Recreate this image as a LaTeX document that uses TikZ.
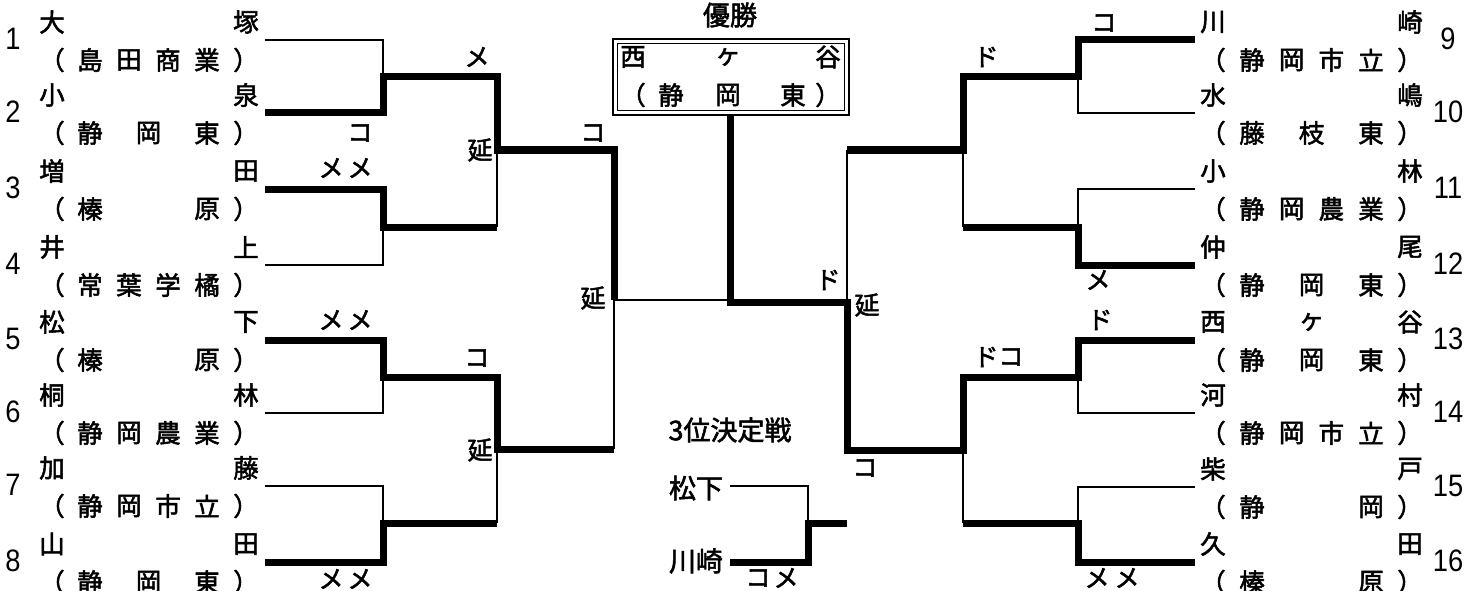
\documentclass[tikz,border=0pt]{standalone}
\usepackage{fontspec}
\setmainfont{Noto Sans CJK JP}[FakeBold=2]
\newfontfamily\numfont{Liberation Sans}
\tikzset{
  thinln/.style={line width=2.2pt},
  thickln/.style={line width=7pt, line join=miter},
  nm/.style={inner sep=0pt, font=\fontsize{25.5}{25.5}\selectfont},
  lab/.style={inner sep=0pt, font=\fontsize{25}{25}\selectfont},
  num/.style={inner sep=0pt, xscale=0.88, font=\numfont\fontsize{31}{31}\selectfont},
  ctr/.style={inner sep=0pt, font=\fontsize{27}{27}\selectfont},
  boxln/.style={line width=2pt},
  boxin/.style={line width=1.5pt},
}
\newcommand\spreadrow[5]{%
  \foreach \ch [count=\i] in {#5} {\xdef\nitems{\i}}%
  \foreach \ch [count=\i] in {#5} {%
    \pgfmathsetmacro\xx{#3+(#4-#3)*(\i-1)/max(\nitems-1,1)}%
    \node[nm] (#1-\i) at (\xx,#2) {\ch};
  }%
}
\newcommand\lteam[5]{%
  \node[num] (#1n) at (13,#2-1) {#3};
  \spreadrow{#1a}{#2-18}{52}{246}{#4}
  \node[nm] (#1o) at (52,#2+20) {（};
  \node[nm] (#1c) at (246,#2+20) {）};
  \spreadrow{#1b}{#2+20}{90}{207}{#5}
}
\newcommand\rteam[5]{%
  \node[num] (#1n) at (1448,#2-1) {#3};
  \spreadrow{#1a}{#2-18}{1213}{1410}{#4}
  \node[nm] (#1o) at (1213,#2+20) {（};
  \node[nm] (#1c) at (1410,#2+20) {）};
  \spreadrow{#1b}{#2+20}{1252}{1371}{#5}
}
\begin{document}
\begin{tikzpicture}[x=1pt,y=-1pt]
\useasboundingbox (0,0) rectangle (1480,591);
% teams left
\lteam{L1}{40}{1}{大,塚}{島,田,商,業}
\lteam{L2}{113}{2}{小,泉}{静,岡,東}
\lteam{L3}{189}{3}{増,田}{榛,原}
\lteam{L4}{265}{4}{井,上}{常,葉,学,橘}
\lteam{L5}{340}{5}{松,下}{榛,原}
\lteam{L6}{413}{6}{桐,林}{静,岡,農,業}
\lteam{L7}{486}{7}{加,藤}{静,岡,市,立}
\lteam{L8}{562}{8}{山,田}{静,岡,東}
% teams right
\rteam{R9}{40}{9}{川,崎}{静,岡,市,立}
\rteam{R10}{113}{10}{水,嶋}{藤,枝,東}
\rteam{R11}{189}{11}{小,林}{静,岡,農,業}
\rteam{R12}{265}{12}{仲,尾}{静,岡,東}
\rteam{R13}{340}{13}{西,ヶ,谷}{静,岡,東}
\rteam{R14}{413}{14}{河,村}{静,岡,市,立}
\rteam{R15}{487}{15}{柴,戸}{静,岡}
\rteam{R16}{562}{16}{久,田}{榛,原}

% left top bracket
\draw[thinln] (265,40) -- (383,40) -- (383,80);
\draw[thickln] (265,113) -- (383,113) -- (383,77) -- (497,77) -- (497,150) -- (614,150) -- (614,300);
\draw[thickln] (265,189) -- (383,189) -- (383,227) -- (497,227);
\draw[thinln] (497,150) -- (497,227);
\draw[thinln] (265,265) -- (383,265) -- (383,224);
% left bottom bracket
\draw[thickln] (265,340) -- (383,340) -- (383,377) -- (497,377) -- (497,449) -- (614,449);
\draw[thinln] (265,413) -- (383,413) -- (383,374);
\draw[thinln] (265,486) -- (383,486) -- (383,526);
\draw[thickln] (265,562) -- (383,562) -- (383,523) -- (497,523);
\draw[thinln] (497,449) -- (497,523);
\draw[thinln] (614,449) -- (614,300) -- (730,300);
% champion box
\draw[boxln] (613,39) rectangle (849,115);
\draw[boxin] (617.5,43.5) rectangle (844.5,110.5);
\node[ctr] (title) at (730,15) {優勝};
\node[nm] (w1) at (633,57) {西};
\node[nm] (w2) at (728,57) {ヶ};
\node[nm] (w3) at (828,57) {谷};
\node[nm] (w4) at (633,95) {（};
\node[nm] (w5) at (671,95) {静};
\node[nm] (w6) at (728,95) {岡};
\node[nm] (w7) at (793,95) {東};
\node[nm] (w8) at (828,95) {）};
% final
\draw[thickln] (730,115) -- (730,302) -- (847,302) -- (847,450) -- (963,450) -- (963,377) -- (1078,377) -- (1078,340) -- (1195,340);
\draw[thinln] (847,302) -- (847,150);
% right top bracket
\draw[thickln] (847,150) -- (963,150) -- (963,77) -- (1078,77) -- (1078,40) -- (1195,40);
\draw[thinln] (1078,74) -- (1078,113) -- (1195,113);
\draw[thinln] (963,150) -- (963,227);
\draw[thickln] (963,227) -- (1078,227) -- (1078,265) -- (1195,265);
\draw[thinln] (1078,230) -- (1078,189) -- (1195,189);
% right bottom bracket
\draw[thinln] (1078,374) -- (1078,413) -- (1195,413);
\draw[thinln] (963,450) -- (963,523);
\draw[thickln] (963,523) -- (1078,523) -- (1078,562) -- (1195,562);
\draw[thinln] (1078,526) -- (1078,487) -- (1195,487);
% third place
\node[ctr] (third) at (730,430) {3位決定戦};
\node[ctr] (t1) at (696,488) {松下};
\node[ctr] (t2) at (696,561) {川崎};
\draw[thinln] (730,486) -- (808,486) -- (808,526);
\draw[thickln] (730,562) -- (808,562) -- (808,523) -- (847,523);
% result labels left
\node[lab] (a1) at (477,57) {メ};
\node[lab] (a2) at (360,133) {コ};
\node[lab] (a3) at (331,168) {メ};
\node[lab] (a4) at (360,168) {メ};
\node[lab] (a5) at (480,150) {延};
\node[lab] (a6) at (593,133) {コ};
\node[lab] (a7) at (593,298) {延};
\node[lab] (a8) at (331,320) {メ};
\node[lab] (a9) at (360,320) {メ};
\node[lab] (a10) at (477,358) {コ};
\node[lab] (a11) at (480,450) {延};
\node[lab] (a12) at (331,579) {メ};
\node[lab] (a13) at (360,579) {メ};
% centre labels
\node[lab] (b1) at (828,280) {ド};
\node[lab] (b2) at (867,305) {延};
\node[lab] (b3) at (865,468) {コ};
\node[lab] (b4) at (758,578) {コ};
\node[lab] (b5) at (786,578) {メ};
% right labels
\node[lab] (c1) at (1104,23) {コ};
\node[lab] (c2) at (986,57) {ド};
\node[lab] (c3) at (1098,280) {メ};
\node[lab] (c4) at (986,357) {ド};
\node[lab] (c5) at (1011,357) {コ};
\node[lab] (c6) at (1100,320) {ド};
\node[lab] (c7) at (1097,578) {メ};
\node[lab] (c8) at (1127,578) {メ};
\end{tikzpicture}
\end{document}
